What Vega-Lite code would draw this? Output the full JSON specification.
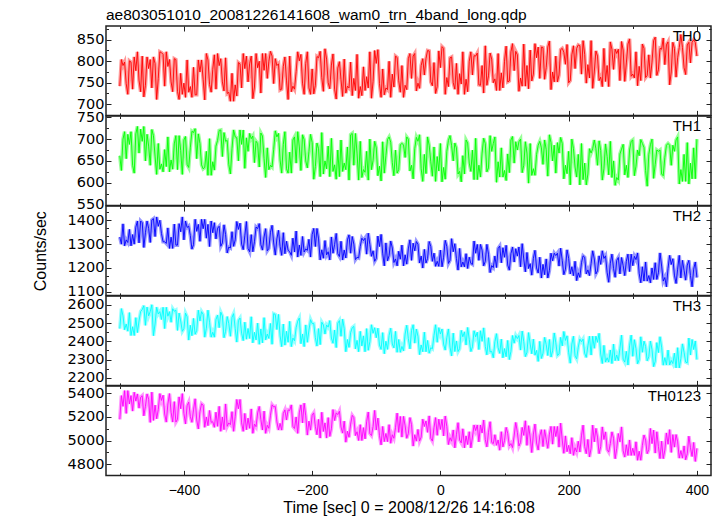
{
"$schema":"https://vega.github.io/schema/vega-lite/v6.json",
"background":"white",
"padding":{"left":31,"top":7,"right":5,"bottom":2},
"title":{"text":"ae803051010_20081226141608_wam0_trn_4band_long.qdp","anchor":"start","frame":"group","font":"Liberation Sans","fontSize":15.5,"fontWeight":"normal","color":"black","offset":-3},
"datasets":{"lc":[
{"t":-500,"TH0":742,"TH1":662,"TH2":1330,"TH3":2470,"TH0123":5180},
{"t":-495,"TH0":790,"TH1":700,"TH2":1385,"TH3":2540,"TH0123":5290},
{"t":-490,"TH0":748,"TH1":655,"TH2":1318,"TH3":2495,"TH0123":5230},
{"t":-485,"TH0":801,"TH1":688,"TH2":1362,"TH3":2558,"TH0123":5310},
{"t":-480,"TH0":735,"TH1":640,"TH2":1340,"TH3":2480,"TH0123":5250},
{"t":-475,"TH0":778,"TH1":712,"TH2":1371,"TH3":2530,"TH0123":5335},
{"t":-470,"TH0":756,"TH1":668,"TH2":1305,"TH3":2512,"TH0123":5275},
{"t":-465,"TH0":812,"TH1":695,"TH2":1390,"TH3":2575,"TH0123":5380},
{"t":-460,"TH0":744,"TH1":650,"TH2":1348,"TH3":2488,"TH0123":5290},
{"t":-455,"TH0":783,"TH1":684,"TH2":1366,"TH3":2540,"TH0123":5350},
{"t":-450,"TH0":738,"TH1":722,"TH2":1402,"TH3":2601,"TH0123":5410},
{"t":-445,"TH0":795,"TH1":661,"TH2":1332,"TH3":2495,"TH0123":5300},
{"t":-440,"TH0":760,"TH1":690,"TH2":1375,"TH3":2550,"TH0123":5262},
{"t":-435,"TH0":820,"TH1":643,"TH2":1345,"TH3":2520,"TH0123":5340},
{"t":-430,"TH0":742,"TH1":676,"TH2":1310,"TH3":2470,"TH0123":5225},
{"t":-425,"TH0":788,"TH1":705,"TH2":1368,"TH3":2538,"TH0123":5310},
{"t":-420,"TH0":752,"TH1":652,"TH2":1329,"TH3":2505,"TH0123":5240},
{"t":-415,"TH0":806,"TH1":689,"TH2":1384,"TH3":2565,"TH0123":5330},
{"t":-410,"TH0":730,"TH1":630,"TH2":1296,"TH3":2460,"TH0123":5180},
{"t":-405,"TH0":772,"TH1":674,"TH2":1352,"TH3":2512,"TH0123":5270},
{"t":-400,"TH0":749,"TH1":698,"TH2":1318,"TH3":2470,"TH0123":5230},
{"t":-395,"TH0":803,"TH1":642,"TH2":1370,"TH3":2535,"TH0123":5295},
{"t":-390,"TH0":741,"TH1":680,"TH2":1336,"TH3":2488,"TH0123":5205},
{"t":-385,"TH0":786,"TH1":715,"TH2":1298,"TH3":2526,"TH0123":5260},
{"t":-380,"TH0":722,"TH1":655,"TH2":1354,"TH3":2460,"TH0123":5175},
{"t":-375,"TH0":775,"TH1":690,"TH2":1312,"TH3":2512,"TH0123":5245},
{"t":-370,"TH0":758,"TH1":632,"TH2":1365,"TH3":2548,"TH0123":5300},
{"t":-365,"TH0":818,"TH1":672,"TH2":1325,"TH3":2472,"TH0123":5200},
{"t":-360,"TH0":746,"TH1":701,"TH2":1290,"TH3":2505,"TH0123":5255},
{"t":-355,"TH0":781,"TH1":648,"TH2":1348,"TH3":2450,"TH0123":5160},
{"t":-350,"TH0":735,"TH1":684,"TH2":1322,"TH3":2520,"TH0123":5240},
{"t":-345,"TH0":790,"TH1":720,"TH2":1375,"TH3":2475,"TH0123":5290},
{"t":-340,"TH0":752,"TH1":660,"TH2":1305,"TH3":2540,"TH0123":5200},
{"t":-335,"TH0":808,"TH1":695,"TH2":1340,"TH3":2455,"TH0123":5310},
{"t":-330,"TH0":728,"TH1":642,"TH2":1288,"TH3":2498,"TH0123":5150},
{"t":-325,"TH0":772,"TH1":678,"TH2":1352,"TH3":2532,"TH0123":5245},
{"t":-320,"TH0":745,"TH1":705,"TH2":1318,"TH3":2470,"TH0123":5205},
{"t":-315,"TH0":797,"TH1":650,"TH2":1362,"TH3":2515,"TH0123":5270},
{"t":-310,"TH0":738,"TH1":688,"TH2":1300,"TH3":2445,"TH0123":5150},
{"t":-305,"TH0":783,"TH1":633,"TH2":1335,"TH3":2505,"TH0123":5230},
{"t":-300,"TH0":752,"TH1":672,"TH2":1282,"TH3":2470,"TH0123":5190},
{"t":-295,"TH0":812,"TH1":701,"TH2":1340,"TH3":2535,"TH0123":5268},
{"t":-290,"TH0":740,"TH1":646,"TH2":1310,"TH3":2450,"TH0123":5140},
{"t":-285,"TH0":785,"TH1":690,"TH2":1365,"TH3":2500,"TH0123":5235},
{"t":-280,"TH0":726,"TH1":714,"TH2":1298,"TH3":2468,"TH0123":5180},
{"t":-275,"TH0":779,"TH1":655,"TH2":1330,"TH3":2530,"TH0123":5250},
{"t":-270,"TH0":760,"TH1":680,"TH2":1272,"TH3":2440,"TH0123":5130},
{"t":-265,"TH0":823,"TH1":640,"TH2":1350,"TH3":2498,"TH0123":5215},
{"t":-260,"TH0":748,"TH1":676,"TH2":1305,"TH3":2552,"TH0123":5285},
{"t":-255,"TH0":790,"TH1":705,"TH2":1322,"TH3":2465,"TH0123":5160},
{"t":-250,"TH0":733,"TH1":652,"TH2":1290,"TH3":2430,"TH0123":5145},
{"t":-245,"TH0":788,"TH1":688,"TH2":1348,"TH3":2495,"TH0123":5230},
{"t":-240,"TH0":756,"TH1":632,"TH2":1312,"TH3":2455,"TH0123":5175},
{"t":-235,"TH0":812,"TH1":670,"TH2":1268,"TH3":2510,"TH0123":5255},
{"t":-230,"TH0":742,"TH1":698,"TH2":1325,"TH3":2418,"TH0123":5120},
{"t":-225,"TH0":776,"TH1":645,"TH2":1355,"TH3":2475,"TH0123":5200},
{"t":-220,"TH0":801,"TH1":682,"TH2":1296,"TH3":2528,"TH0123":5235},
{"t":-215,"TH0":749,"TH1":710,"TH2":1332,"TH3":2440,"TH0123":5150},
{"t":-210,"TH0":795,"TH1":650,"TH2":1280,"TH3":2490,"TH0123":5210},
{"t":-205,"TH0":738,"TH1":672,"TH2":1320,"TH3":2462,"TH0123":5165},
{"t":-200,"TH0":782,"TH1":692,"TH2":1340,"TH3":2498,"TH0123":5215},
{"t":-195,"TH0":744,"TH1":637,"TH2":1290,"TH3":2420,"TH0123":5120},
{"t":-190,"TH0":808,"TH1":678,"TH2":1322,"TH3":2470,"TH0123":5180},
{"t":-185,"TH0":762,"TH1":715,"TH2":1276,"TH3":2505,"TH0123":5240},
{"t":-180,"TH0":829,"TH1":650,"TH2":1315,"TH3":2440,"TH0123":5150},
{"t":-175,"TH0":750,"TH1":684,"TH2":1268,"TH3":2478,"TH0123":5195},
{"t":-170,"TH0":791,"TH1":702,"TH2":1330,"TH3":2418,"TH0123":5100},
{"t":-165,"TH0":735,"TH1":641,"TH2":1298,"TH3":2462,"TH0123":5170},
{"t":-160,"TH0":784,"TH1":675,"TH2":1260,"TH3":2500,"TH0123":5220},
{"t":-155,"TH0":757,"TH1":698,"TH2":1312,"TH3":2428,"TH0123":5115},
{"t":-150,"TH0":805,"TH1":645,"TH2":1275,"TH3":2470,"TH0123":5165},
{"t":-145,"TH0":742,"TH1":682,"TH2":1318,"TH3":2410,"TH0123":5080},
{"t":-140,"TH0":798,"TH1":710,"TH2":1262,"TH3":2448,"TH0123":5140},
{"t":-135,"TH0":760,"TH1":640,"TH2":1300,"TH3":2482,"TH0123":5195},
{"t":-130,"TH0":816,"TH1":668,"TH2":1245,"TH3":2405,"TH0123":5075},
{"t":-125,"TH0":741,"TH1":695,"TH2":1290,"TH3":2455,"TH0123":5135},
{"t":-120,"TH0":787,"TH1":630,"TH2":1315,"TH3":2430,"TH0123":5110},
{"t":-115,"TH0":764,"TH1":672,"TH2":1258,"TH3":2470,"TH0123":5160},
{"t":-110,"TH0":822,"TH1":700,"TH2":1298,"TH3":2398,"TH0123":5060},
{"t":-105,"TH0":753,"TH1":651,"TH2":1272,"TH3":2445,"TH0123":5120},
{"t":-100,"TH0":795,"TH1":680,"TH2":1240,"TH3":2420,"TH0123":5090},
{"t":-95,"TH0":748,"TH1":638,"TH2":1290,"TH3":2380,"TH0123":5045},
{"t":-90,"TH0":782,"TH1":694,"TH2":1262,"TH3":2448,"TH0123":5120},
{"t":-85,"TH0":738,"TH1":662,"TH2":1305,"TH3":2400,"TH0123":5060},
{"t":-80,"TH0":800,"TH1":705,"TH2":1252,"TH3":2432,"TH0123":5135},
{"t":-75,"TH0":770,"TH1":646,"TH2":1284,"TH3":2385,"TH0123":5050},
{"t":-70,"TH0":812,"TH1":675,"TH2":1238,"TH3":2455,"TH0123":5110},
{"t":-65,"TH0":755,"TH1":630,"TH2":1270,"TH3":2410,"TH0123":5070},
{"t":-60,"TH0":790,"TH1":690,"TH2":1296,"TH3":2372,"TH0123":5030},
{"t":-55,"TH0":744,"TH1":658,"TH2":1255,"TH3":2440,"TH0123":5125},
{"t":-50,"TH0":806,"TH1":700,"TH2":1280,"TH3":2415,"TH0123":5060},
{"t":-45,"TH0":760,"TH1":640,"TH2":1232,"TH3":2460,"TH0123":5135},
{"t":-40,"TH0":818,"TH1":678,"TH2":1272,"TH3":2390,"TH0123":5050},
{"t":-35,"TH0":749,"TH1":695,"TH2":1300,"TH3":2428,"TH0123":5095},
{"t":-30,"TH0":790,"TH1":632,"TH2":1250,"TH3":2380,"TH0123":5030},
{"t":-25,"TH0":768,"TH1":665,"TH2":1278,"TH3":2450,"TH0123":5120},
{"t":-20,"TH0":825,"TH1":705,"TH2":1240,"TH3":2405,"TH0123":5070},
{"t":-15,"TH0":752,"TH1":648,"TH2":1290,"TH3":2365,"TH0123":5020},
{"t":-10,"TH0":797,"TH1":682,"TH2":1262,"TH3":2432,"TH0123":5110},
{"t":-5,"TH0":741,"TH1":660,"TH2":1228,"TH3":2395,"TH0123":5045},
{"t":0,"TH0":785,"TH1":690,"TH2":1275,"TH3":2440,"TH0123":5095},
{"t":5,"TH0":830,"TH1":635,"TH2":1245,"TH3":2385,"TH0123":5040},
{"t":10,"TH0":762,"TH1":672,"TH2":1290,"TH3":2420,"TH0123":5120},
{"t":15,"TH0":808,"TH1":708,"TH2":1232,"TH3":2368,"TH0123":5025},
{"t":20,"TH0":750,"TH1":650,"TH2":1268,"TH3":2445,"TH0123":5090},
{"t":25,"TH0":795,"TH1":680,"TH2":1240,"TH3":2402,"TH0123":5050},
{"t":30,"TH0":771,"TH1":626,"TH2":1282,"TH3":2360,"TH0123":5005},
{"t":35,"TH0":822,"TH1":662,"TH2":1225,"TH3":2425,"TH0123":5100},
{"t":40,"TH0":758,"TH1":698,"TH2":1260,"TH3":2380,"TH0123":5040},
{"t":45,"TH0":800,"TH1":645,"TH2":1245,"TH3":2410,"TH0123":5075},
{"t":50,"TH0":768,"TH1":675,"TH2":1215,"TH3":2370,"TH0123":5030},
{"t":55,"TH0":812,"TH1":702,"TH2":1262,"TH3":2425,"TH0123":5085},
{"t":60,"TH0":745,"TH1":640,"TH2":1232,"TH3":2355,"TH0123":4990},
{"t":65,"TH0":790,"TH1":668,"TH2":1275,"TH3":2400,"TH0123":5065},
{"t":70,"TH0":836,"TH1":690,"TH2":1228,"TH3":2372,"TH0123":5010},
{"t":75,"TH0":766,"TH1":634,"TH2":1258,"TH3":2420,"TH0123":5070},
{"t":80,"TH0":805,"TH1":672,"TH2":1210,"TH3":2345,"TH0123":4985},
{"t":85,"TH0":759,"TH1":705,"TH2":1250,"TH3":2398,"TH0123":5050},
{"t":90,"TH0":818,"TH1":648,"TH2":1282,"TH3":2365,"TH0123":5005},
{"t":95,"TH0":773,"TH1":680,"TH2":1222,"TH3":2412,"TH0123":5075},
{"t":100,"TH0":800,"TH1":628,"TH2":1245,"TH3":2360,"TH0123":5000},
{"t":105,"TH0":752,"TH1":666,"TH2":1212,"TH3":2405,"TH0123":5060},
{"t":110,"TH0":822,"TH1":698,"TH2":1260,"TH3":2345,"TH0123":4975},
{"t":115,"TH0":778,"TH1":645,"TH2":1225,"TH3":2390,"TH0123":5040},
{"t":120,"TH0":815,"TH1":675,"TH2":1250,"TH3":2415,"TH0123":5070},
{"t":125,"TH0":761,"TH1":700,"TH2":1205,"TH3":2352,"TH0123":4985},
{"t":130,"TH0":840,"TH1":640,"TH2":1238,"TH3":2398,"TH0123":5045},
{"t":135,"TH0":790,"TH1":668,"TH2":1265,"TH3":2340,"TH0123":4960},
{"t":140,"TH0":826,"TH1":690,"TH2":1218,"TH3":2385,"TH0123":5030},
{"t":145,"TH0":770,"TH1":632,"TH2":1240,"TH3":2412,"TH0123":5055},
{"t":150,"TH0":808,"TH1":665,"TH2":1200,"TH3":2350,"TH0123":4980},
{"t":155,"TH0":760,"TH1":695,"TH2":1245,"TH3":2400,"TH0123":5040},
{"t":160,"TH0":832,"TH1":642,"TH2":1215,"TH3":2335,"TH0123":4950},
{"t":165,"TH0":785,"TH1":676,"TH2":1238,"TH3":2382,"TH0123":5010},
{"t":170,"TH0":847,"TH1":710,"TH2":1190,"TH3":2410,"TH0123":5055},
{"t":175,"TH0":775,"TH1":650,"TH2":1230,"TH3":2348,"TH0123":4970},
{"t":180,"TH0":812,"TH1":622,"TH2":1252,"TH3":2392,"TH0123":5035},
{"t":185,"TH0":768,"TH1":668,"TH2":1208,"TH3":2330,"TH0123":4945},
{"t":190,"TH0":830,"TH1":690,"TH2":1232,"TH3":2375,"TH0123":5005},
{"t":195,"TH0":793,"TH1":640,"TH2":1195,"TH3":2405,"TH0123":5040},
{"t":200,"TH0":750,"TH1":672,"TH2":1240,"TH3":2340,"TH0123":4960},
{"t":205,"TH0":815,"TH1":700,"TH2":1205,"TH3":2385,"TH0123":5025},
{"t":210,"TH0":783,"TH1":636,"TH2":1228,"TH3":2320,"TH0123":4940},
{"t":215,"TH0":838,"TH1":665,"TH2":1180,"TH3":2368,"TH0123":4995},
{"t":220,"TH0":770,"TH1":690,"TH2":1222,"TH3":2398,"TH0123":5040},
{"t":225,"TH0":816,"TH1":645,"TH2":1245,"TH3":2335,"TH0123":4950},
{"t":230,"TH0":792,"TH1":620,"TH2":1192,"TH3":2375,"TH0123":5010},
{"t":235,"TH0":848,"TH1":668,"TH2":1218,"TH3":2325,"TH0123":4935},
{"t":240,"TH0":775,"TH1":698,"TH2":1238,"TH3":2362,"TH0123":4990},
{"t":245,"TH0":812,"TH1":640,"TH2":1188,"TH3":2395,"TH0123":5030},
{"t":250,"TH0":763,"TH1":674,"TH2":1215,"TH3":2330,"TH0123":4950},
{"t":255,"TH0":830,"TH1":632,"TH2":1240,"TH3":2378,"TH0123":5010},
{"t":260,"TH0":790,"TH1":660,"TH2":1182,"TH3":2310,"TH0123":4925},
{"t":265,"TH0":845,"TH1":695,"TH2":1220,"TH3":2352,"TH0123":4975},
{"t":270,"TH0":781,"TH1":650,"TH2":1198,"TH3":2385,"TH0123":5020},
{"t":275,"TH0":818,"TH1":612,"TH2":1232,"TH3":2325,"TH0123":4935},
{"t":280,"TH0":755,"TH1":666,"TH2":1175,"TH3":2362,"TH0123":4990},
{"t":285,"TH0":826,"TH1":688,"TH2":1210,"TH3":2302,"TH0123":4915},
{"t":290,"TH0":796,"TH1":640,"TH2":1228,"TH3":2345,"TH0123":4965},
{"t":295,"TH0":852,"TH1":675,"TH2":1185,"TH3":2375,"TH0123":5005},
{"t":300,"TH0":770,"TH1":698,"TH2":1210,"TH3":2318,"TH0123":4935},
{"t":305,"TH0":822,"TH1":638,"TH2":1235,"TH3":2360,"TH0123":4990},
{"t":310,"TH0":788,"TH1":662,"TH2":1178,"TH3":2300,"TH0123":4910},
{"t":315,"TH0":840,"TH1":690,"TH2":1205,"TH3":2340,"TH0123":4960},
{"t":320,"TH0":762,"TH1":628,"TH2":1225,"TH3":2372,"TH0123":5005},
{"t":325,"TH0":815,"TH1":665,"TH2":1168,"TH3":2315,"TH0123":4925},
{"t":330,"TH0":798,"TH1":700,"TH2":1200,"TH3":2355,"TH0123":4975},
{"t":335,"TH0":856,"TH1":642,"TH2":1222,"TH3":2290,"TH0123":4895},
{"t":340,"TH0":780,"TH1":672,"TH2":1180,"TH3":2338,"TH0123":4950},
{"t":345,"TH0":828,"TH1":620,"TH2":1208,"TH3":2368,"TH0123":4995},
{"t":350,"TH0":792,"TH1":658,"TH2":1160,"TH3":2310,"TH0123":4920},
{"t":355,"TH0":845,"TH1":690,"TH2":1198,"TH3":2352,"TH0123":4970},
{"t":360,"TH0":775,"TH1":640,"TH2":1215,"TH3":2295,"TH0123":4900},
{"t":365,"TH0":830,"TH1":672,"TH2":1170,"TH3":2335,"TH0123":4945},
{"t":370,"TH0":808,"TH1":705,"TH2":1195,"TH3":2365,"TH0123":4990},
{"t":375,"TH0":862,"TH1":630,"TH2":1158,"TH3":2305,"TH0123":4915},
{"t":380,"TH0":785,"TH1":665,"TH2":1190,"TH3":2340,"TH0123":4955},
{"t":385,"TH0":838,"TH1":692,"TH2":1212,"TH3":2282,"TH0123":4890},
{"t":390,"TH0":796,"TH1":645,"TH2":1168,"TH3":2325,"TH0123":4940},
{"t":395,"TH0":850,"TH1":680,"TH2":1195,"TH3":2355,"TH0123":4985},
{"t":400,"TH0":812,"TH1":700,"TH2":1160,"TH3":2300,"TH0123":4935},
{"t":-497.5,"TH0":804,"TH1":628,"TH2":1300,"TH3":2580,"TH0123":5381},
{"t":-492.5,"TH0":798,"TH1":717,"TH2":1293,"TH3":2464,"TH0123":5423},
{"t":-487.5,"TH0":723,"TH1":711,"TH2":1307,"TH3":2456,"TH0123":5423},
{"t":-482.5,"TH0":798,"TH1":717,"TH2":1293,"TH3":2432,"TH0123":5381},
{"t":-477.5,"TH0":810,"TH1":622,"TH2":1300,"TH3":2432,"TH0123":5409},
{"t":-472.5,"TH0":822,"TH1":729,"TH2":1397,"TH3":2448,"TH0123":5395},
{"t":-467.5,"TH0":729,"TH1":723,"TH2":1397,"TH3":2564,"TH0123":5367},
{"t":-462.5,"TH0":717,"TH1":729,"TH2":1286,"TH3":2596,"TH0123":5210},
{"t":-457.5,"TH0":810,"TH1":711,"TH2":1397,"TH3":2588,"TH0123":5395},
{"t":-452.5,"TH0":804,"TH1":640,"TH2":1307,"TH3":2564,"TH0123":5154},
{"t":-447.5,"TH0":810,"TH1":708,"TH2":1407,"TH3":2431,"TH0123":5171},
{"t":-442.5,"TH0":711,"TH1":619,"TH2":1414,"TH3":2587,"TH0123":5185},
{"t":-437.5,"TH0":822,"TH1":631,"TH2":1400,"TH3":2563,"TH0123":5398},
{"t":-432.5,"TH0":816,"TH1":625,"TH2":1310,"TH3":2587,"TH0123":5384},
{"t":-427.5,"TH0":822,"TH1":637,"TH2":1303,"TH3":2587,"TH0123":5157},
{"t":-422.5,"TH0":804,"TH1":625,"TH2":1282,"TH3":2563,"TH0123":5398},
{"t":-417.5,"TH0":729,"TH1":631,"TH2":1282,"TH3":2579,"TH0123":5157},
{"t":-412.5,"TH0":804,"TH1":708,"TH2":1296,"TH3":2571,"TH0123":5157},
{"t":-407.5,"TH0":711,"TH1":708,"TH2":1386,"TH3":2555,"TH0123":5370},
{"t":-402.5,"TH0":723,"TH1":619,"TH2":1414,"TH3":2455,"TH0123":5398},
{"t":-397.5,"TH0":716,"TH1":706,"TH2":1397,"TH3":2555,"TH0123":5141},
{"t":-392.5,"TH0":728,"TH1":635,"TH2":1376,"TH3":2407,"TH0123":5326},
{"t":-387.5,"TH0":716,"TH1":718,"TH2":1279,"TH3":2431,"TH0123":5155},
{"t":-382.5,"TH0":722,"TH1":724,"TH2":1404,"TH3":2439,"TH0123":5354},
{"t":-377.5,"TH0":803,"TH1":712,"TH2":1383,"TH3":2571,"TH0123":5099},
{"t":-372.5,"TH0":803,"TH1":641,"TH2":1404,"TH3":2563,"TH0123":5312},
{"t":-367.5,"TH0":710,"TH1":635,"TH2":1404,"TH3":2423,"TH0123":5113},
{"t":-362.5,"TH0":803,"TH1":617,"TH2":1383,"TH3":2571,"TH0123":5127},
{"t":-357.5,"TH0":728,"TH1":617,"TH2":1397,"TH3":2423,"TH0123":5155},
{"t":-352.5,"TH0":815,"TH1":629,"TH2":1390,"TH3":2423,"TH0123":5113},
{"t":-347.5,"TH0":818,"TH1":697,"TH2":1367,"TH3":2544,"TH0123":5121},
{"t":-342.5,"TH0":806,"TH1":721,"TH2":1291,"TH3":2560,"TH0123":5079},
{"t":-337.5,"TH0":731,"TH1":715,"TH2":1381,"TH3":2420,"TH0123":5093},
{"t":-332.5,"TH0":725,"TH1":697,"TH2":1263,"TH3":2536,"TH0123":5121},
{"t":-327.5,"TH0":707,"TH1":620,"TH2":1284,"TH3":2428,"TH0123":5135},
{"t":-322.5,"TH0":707,"TH1":721,"TH2":1291,"TH3":2552,"TH0123":5079},
{"t":-317.5,"TH0":719,"TH1":703,"TH2":1395,"TH3":2396,"TH0123":5348},
{"t":-312.5,"TH0":794,"TH1":721,"TH2":1388,"TH3":2528,"TH0123":5348},
{"t":-307.5,"TH0":818,"TH1":721,"TH2":1277,"TH3":2404,"TH0123":5079},
{"t":-302.5,"TH0":812,"TH1":703,"TH2":1395,"TH3":2412,"TH0123":5093},
{"t":-297.5,"TH0":794,"TH1":713,"TH2":1268,"TH3":2416,"TH0123":5104},
{"t":-292.5,"TH0":713,"TH1":707,"TH2":1268,"TH3":2392,"TH0123":5062},
{"t":-287.5,"TH0":818,"TH1":695,"TH2":1372,"TH3":2408,"TH0123":5118},
{"t":-282.5,"TH0":800,"TH1":636,"TH2":1386,"TH3":2384,"TH0123":5289},
{"t":-277.5,"TH0":818,"TH1":707,"TH2":1275,"TH3":2392,"TH0123":5090},
{"t":-272.5,"TH0":818,"TH1":612,"TH2":1365,"TH3":2408,"TH0123":5062},
{"t":-267.5,"TH0":800,"TH1":630,"TH2":1282,"TH3":2416,"TH0123":5104},
{"t":-262.5,"TH0":812,"TH1":636,"TH2":1379,"TH3":2384,"TH0123":5303},
{"t":-257.5,"TH0":806,"TH1":719,"TH2":1254,"TH3":2548,"TH0123":5289},
{"t":-252.5,"TH0":794,"TH1":713,"TH2":1358,"TH3":2548,"TH0123":5090},
{"t":-247.5,"TH0":735,"TH1":622,"TH2":1253,"TH3":2371,"TH0123":5089},
{"t":-242.5,"TH0":810,"TH1":717,"TH2":1260,"TH3":2379,"TH0123":5260},
{"t":-237.5,"TH0":711,"TH1":622,"TH2":1274,"TH3":2395,"TH0123":5260},
{"t":-232.5,"TH0":729,"TH1":622,"TH2":1253,"TH3":2371,"TH0123":5302},
{"t":-227.5,"TH0":735,"TH1":705,"TH2":1267,"TH3":2403,"TH0123":5103},
{"t":-222.5,"TH0":822,"TH1":717,"TH2":1246,"TH3":2511,"TH0123":5061},
{"t":-217.5,"TH0":816,"TH1":628,"TH2":1253,"TH3":2387,"TH0123":5302},
{"t":-212.5,"TH0":723,"TH1":699,"TH2":1267,"TH3":2371,"TH0123":5316},
{"t":-207.5,"TH0":822,"TH1":634,"TH2":1274,"TH3":2395,"TH0123":5047},
{"t":-202.5,"TH0":723,"TH1":711,"TH2":1246,"TH3":2519,"TH0123":5089},
{"t":-197.5,"TH0":724,"TH1":608,"TH2":1366,"TH3":2498,"TH0123":5235},
{"t":-192.5,"TH0":811,"TH1":691,"TH2":1366,"TH3":2374,"TH0123":5050},
{"t":-187.5,"TH0":823,"TH1":614,"TH2":1234,"TH3":2382,"TH0123":5022},
{"t":-182.5,"TH0":730,"TH1":620,"TH2":1241,"TH3":2490,"TH0123":5078},
{"t":-177.5,"TH0":805,"TH1":632,"TH2":1255,"TH3":2490,"TH0123":5022},
{"t":-172.5,"TH0":736,"TH1":614,"TH2":1234,"TH3":2514,"TH0123":5036},
{"t":-167.5,"TH0":817,"TH1":626,"TH2":1262,"TH3":2390,"TH0123":5263},
{"t":-162.5,"TH0":712,"TH1":608,"TH2":1345,"TH3":2366,"TH0123":5235},
{"t":-157.5,"TH0":799,"TH1":614,"TH2":1248,"TH3":2514,"TH0123":5249},
{"t":-152.5,"TH0":718,"TH1":626,"TH2":1234,"TH3":2522,"TH0123":5064},
{"t":-147.5,"TH0":726,"TH1":630,"TH2":1242,"TH3":2343,"TH0123":4987},
{"t":-142.5,"TH0":738,"TH1":606,"TH2":1339,"TH3":2367,"TH0123":5029},
{"t":-137.5,"TH0":720,"TH1":713,"TH2":1332,"TH3":2475,"TH0123":5214},
{"t":-132.5,"TH0":732,"TH1":713,"TH2":1235,"TH3":2359,"TH0123":5043},
{"t":-127.5,"TH0":714,"TH1":606,"TH2":1242,"TH3":2343,"TH0123":5001},
{"t":-122.5,"TH0":720,"TH1":612,"TH2":1325,"TH3":2375,"TH0123":5001},
{"t":-117.5,"TH0":732,"TH1":624,"TH2":1325,"TH3":2343,"TH0123":5015},
{"t":-112.5,"TH0":738,"TH1":606,"TH2":1346,"TH3":2351,"TH0123":5242},
{"t":-107.5,"TH0":714,"TH1":630,"TH2":1249,"TH3":2491,"TH0123":5043},
{"t":-102.5,"TH0":825,"TH1":695,"TH2":1228,"TH3":2475,"TH0123":5256},
{"t":-97.5,"TH0":827,"TH1":616,"TH2":1334,"TH3":2472,"TH0123":5191},
{"t":-92.5,"TH0":716,"TH1":604,"TH2":1341,"TH3":2356,"TH0123":4964},
{"t":-87.5,"TH0":722,"TH1":622,"TH2":1209,"TH3":2332,"TH0123":4992},
{"t":-82.5,"TH0":734,"TH1":699,"TH2":1230,"TH3":2356,"TH0123":4992},
{"t":-77.5,"TH0":716,"TH1":693,"TH2":1313,"TH3":2472,"TH0123":4978},
{"t":-72.5,"TH0":740,"TH1":616,"TH2":1223,"TH3":2364,"TH0123":5020},
{"t":-67.5,"TH0":809,"TH1":622,"TH2":1209,"TH3":2340,"TH0123":5233},
{"t":-62.5,"TH0":728,"TH1":687,"TH2":1237,"TH3":2340,"TH0123":5205},
{"t":-57.5,"TH0":716,"TH1":687,"TH2":1209,"TH3":2348,"TH0123":5205},
{"t":-52.5,"TH0":734,"TH1":705,"TH2":1216,"TH3":2488,"TH0123":5020},
{"t":-47.5,"TH0":818,"TH1":627,"TH2":1318,"TH3":2359,"TH0123":5195},
{"t":-42.5,"TH0":812,"TH1":609,"TH2":1304,"TH3":2491,"TH0123":4954},
{"t":-37.5,"TH0":731,"TH1":704,"TH2":1311,"TH3":2467,"TH0123":4996},
{"t":-32.5,"TH0":737,"TH1":710,"TH2":1221,"TH3":2327,"TH0123":4996},
{"t":-27.5,"TH0":806,"TH1":603,"TH2":1200,"TH3":2343,"TH0123":5181},
{"t":-22.5,"TH0":806,"TH1":621,"TH2":1221,"TH3":2343,"TH0123":5167},
{"t":-17.5,"TH0":824,"TH1":686,"TH2":1311,"TH3":2335,"TH0123":5209},
{"t":-12.5,"TH0":743,"TH1":615,"TH2":1228,"TH3":2359,"TH0123":4996},
{"t":-7.5,"TH0":725,"TH1":603,"TH2":1207,"TH3":2491,"TH0123":5195},
{"t":-2.5,"TH0":824,"TH1":627,"TH2":1207,"TH3":2475,"TH0123":5181},
{"t":2.5,"TH0":834,"TH1":602,"TH2":1205,"TH3":2468,"TH0123":5180},
{"t":7.5,"TH0":723,"TH1":608,"TH2":1316,"TH3":2352,"TH0123":5208},
{"t":12.5,"TH0":741,"TH1":697,"TH2":1219,"TH3":2468,"TH0123":4967},
{"t":17.5,"TH0":810,"TH1":685,"TH2":1323,"TH3":2320,"TH0123":4995},
{"t":22.5,"TH0":735,"TH1":691,"TH2":1302,"TH3":2344,"TH0123":4939},
{"t":27.5,"TH0":723,"TH1":620,"TH2":1191,"TH3":2344,"TH0123":5152},
{"t":32.5,"TH0":747,"TH1":602,"TH2":1205,"TH3":2460,"TH0123":4981},
{"t":37.5,"TH0":723,"TH1":620,"TH2":1205,"TH3":2452,"TH0123":4939},
{"t":42.5,"TH0":729,"TH1":691,"TH2":1198,"TH3":2476,"TH0123":4967},
{"t":47.5,"TH0":822,"TH1":626,"TH2":1219,"TH3":2344,"TH0123":4939},
{"t":52.5,"TH0":813,"TH1":607,"TH2":1313,"TH3":2458,"TH0123":5132},
{"t":57.5,"TH0":819,"TH1":607,"TH2":1299,"TH3":2450,"TH0123":5132},
{"t":62.5,"TH0":744,"TH1":613,"TH2":1299,"TH3":2458,"TH0123":5132},
{"t":67.5,"TH0":726,"TH1":702,"TH2":1209,"TH3":2474,"TH0123":5174},
{"t":72.5,"TH0":744,"TH1":625,"TH2":1299,"TH3":2326,"TH0123":4947},
{"t":77.5,"TH0":819,"TH1":708,"TH2":1181,"TH3":2342,"TH0123":5160},
{"t":82.5,"TH0":750,"TH1":690,"TH2":1202,"TH3":2310,"TH0123":4975},
{"t":87.5,"TH0":732,"TH1":601,"TH2":1202,"TH3":2442,"TH0123":4961},
{"t":92.5,"TH0":732,"TH1":613,"TH2":1292,"TH3":2334,"TH0123":4919},
{"t":97.5,"TH0":738,"TH1":613,"TH2":1285,"TH3":2310,"TH0123":4947},
{"t":102.5,"TH0":835,"TH1":605,"TH2":1295,"TH3":2316,"TH0123":5112},
{"t":107.5,"TH0":754,"TH1":623,"TH2":1191,"TH3":2300,"TH0123":4955},
{"t":112.5,"TH0":841,"TH1":706,"TH2":1288,"TH3":2432,"TH0123":4941},
{"t":117.5,"TH0":823,"TH1":694,"TH2":1281,"TH3":2432,"TH0123":5154},
{"t":122.5,"TH0":730,"TH1":694,"TH2":1288,"TH3":2432,"TH0123":4955},
{"t":127.5,"TH0":742,"TH1":623,"TH2":1302,"TH3":2456,"TH0123":5112},
{"t":132.5,"TH0":742,"TH1":694,"TH2":1184,"TH3":2316,"TH0123":5168},
{"t":137.5,"TH0":736,"TH1":599,"TH2":1198,"TH3":2448,"TH0123":5126},
{"t":142.5,"TH0":754,"TH1":617,"TH2":1170,"TH3":2332,"TH0123":4899},
{"t":147.5,"TH0":841,"TH1":617,"TH2":1274,"TH3":2324,"TH0123":5140},
{"t":152.5,"TH0":833,"TH1":686,"TH2":1179,"TH3":2290,"TH0123":4921},
{"t":157.5,"TH0":833,"TH1":680,"TH2":1158,"TH3":2306,"TH0123":5092},
{"t":162.5,"TH0":758,"TH1":698,"TH2":1172,"TH3":2422,"TH0123":5092},
{"t":167.5,"TH0":833,"TH1":615,"TH2":1158,"TH3":2322,"TH0123":4935},
{"t":172.5,"TH0":734,"TH1":692,"TH2":1262,"TH3":2314,"TH0123":5120},
{"t":177.5,"TH0":752,"TH1":686,"TH2":1262,"TH3":2446,"TH0123":5120},
{"t":182.5,"TH0":752,"TH1":692,"TH2":1262,"TH3":2322,"TH0123":5120},
{"t":187.5,"TH0":827,"TH1":704,"TH2":1283,"TH3":2422,"TH0123":5148},
{"t":192.5,"TH0":821,"TH1":609,"TH2":1172,"TH3":2454,"TH0123":4893},
{"t":197.5,"TH0":839,"TH1":621,"TH2":1276,"TH3":2430,"TH0123":4907},
{"t":202.5,"TH0":755,"TH1":595,"TH2":1175,"TH3":2280,"TH0123":4890},
{"t":207.5,"TH0":836,"TH1":678,"TH2":1168,"TH3":2428,"TH0123":4876},
{"t":212.5,"TH0":830,"TH1":613,"TH2":1147,"TH3":2304,"TH0123":4904},
{"t":217.5,"TH0":836,"TH1":595,"TH2":1161,"TH3":2412,"TH0123":4904},
{"t":222.5,"TH0":848,"TH1":607,"TH2":1251,"TH3":2412,"TH0123":5131},
{"t":227.5,"TH0":749,"TH1":595,"TH2":1175,"TH3":2312,"TH0123":4890},
{"t":232.5,"TH0":761,"TH1":678,"TH2":1168,"TH3":2428,"TH0123":4862},
{"t":237.5,"TH0":737,"TH1":678,"TH2":1272,"TH3":2428,"TH0123":5131},
{"t":242.5,"TH0":824,"TH1":678,"TH2":1175,"TH3":2428,"TH0123":5103},
{"t":247.5,"TH0":755,"TH1":696,"TH2":1251,"TH3":2444,"TH0123":4890},
{"t":252.5,"TH0":741,"TH1":606,"TH2":1272,"TH3":2278,"TH0123":5116},
{"t":257.5,"TH0":753,"TH1":689,"TH2":1251,"TH3":2286,"TH0123":5074},
{"t":262.5,"TH0":741,"TH1":618,"TH2":1140,"TH3":2286,"TH0123":4903},
{"t":267.5,"TH0":828,"TH1":612,"TH2":1258,"TH3":2278,"TH0123":5074},
{"t":272.5,"TH0":828,"TH1":594,"TH2":1161,"TH3":2294,"TH0123":4847},
{"t":277.5,"TH0":828,"TH1":606,"TH2":1244,"TH3":2294,"TH0123":5060},
{"t":282.5,"TH0":846,"TH1":677,"TH2":1244,"TH3":2434,"TH0123":5116},
{"t":287.5,"TH0":753,"TH1":618,"TH2":1168,"TH3":2286,"TH0123":4861},
{"t":292.5,"TH0":840,"TH1":612,"TH2":1258,"TH3":2270,"TH0123":4875},
{"t":297.5,"TH0":765,"TH1":695,"TH2":1258,"TH3":2434,"TH0123":4875},
{"t":302.5,"TH0":761,"TH1":616,"TH2":1249,"TH3":2409,"TH0123":4876},
{"t":307.5,"TH0":743,"TH1":675,"TH2":1263,"TH3":2277,"TH0123":4834},
{"t":312.5,"TH0":755,"TH1":699,"TH2":1138,"TH3":2425,"TH0123":4834},
{"t":317.5,"TH0":830,"TH1":681,"TH2":1145,"TH3":2401,"TH0123":5047},
{"t":322.5,"TH0":767,"TH1":592,"TH2":1145,"TH3":2293,"TH0123":4890},
{"t":327.5,"TH0":761,"TH1":687,"TH2":1138,"TH3":2401,"TH0123":5103},
{"t":332.5,"TH0":848,"TH1":610,"TH2":1152,"TH3":2261,"TH0123":5089},
{"t":337.5,"TH0":767,"TH1":675,"TH2":1152,"TH3":2393,"TH0123":5075},
{"t":342.5,"TH0":830,"TH1":675,"TH2":1263,"TH3":2425,"TH0123":4848},
{"t":347.5,"TH0":854,"TH1":616,"TH2":1145,"TH3":2269,"TH0123":4848},
{"t":352.5,"TH0":838,"TH1":686,"TH2":1121,"TH3":2270,"TH0123":5065},
{"t":357.5,"TH0":745,"TH1":686,"TH2":1253,"TH3":2270,"TH0123":5093},
{"t":362.5,"TH0":844,"TH1":686,"TH2":1239,"TH3":2278,"TH0123":5051},
{"t":367.5,"TH0":763,"TH1":698,"TH2":1135,"TH3":2254,"TH0123":5051},
{"t":372.5,"TH0":832,"TH1":597,"TH2":1253,"TH3":2254,"TH0123":4852},
{"t":377.5,"TH0":832,"TH1":603,"TH2":1232,"TH3":2386,"TH0123":4852},
{"t":382.5,"TH0":769,"TH1":603,"TH2":1149,"TH3":2286,"TH0123":4838},
{"t":387.5,"TH0":844,"TH1":597,"TH2":1232,"TH3":2418,"TH0123":5037},
{"t":392.5,"TH0":844,"TH1":609,"TH2":1121,"TH3":2410,"TH0123":4866},
{"t":397.5,"TH0":844,"TH1":609,"TH2":1225,"TH3":2402,"TH0123":4824}
]},
"data":{"name":"lc"},
"spacing":0,
"bounds":"flush",
"config":{
"view":{"stroke":"#222222","strokeWidth":1.5},
"axis":{"domain":false,"grid":false,"labelFont":"Liberation Sans","titleFont":"Liberation Sans","labelColor":"black","titleColor":"black","tickColor":"#222222","tickWidth":1,"labelFlush":false,"labelOverlap":false,"labelBound":false,"titleFontWeight":"normal","titleFontSize":16,"labelFontSize":14},
"text":{"font":"Liberation Sans","fontSize":15,"color":"black","align":"right","baseline":"top","dx":-10,"dy":3}
},
"vconcat":[
{"width":605,"height":89.4,
"layer":[
{"mark":{"type":"line","color":"#ff0000","strokeWidth":3.6,"opacity":0.4,"clip":true},
"encoding":{"x":{"field":"t","type":"quantitative","scale":{"domain":[-521.5,422],"nice":false,"zero":false},"axis":{"orient":"top","values":[-500,-400,-300,-200,-100,0,100,200,300,400],"labels":false,"title":null,"tickSize":{"condition":{"test":"datum.value % 200 === 0","value":-5},"value":-2.5}}},
"y":{"field":"TH0","type":"quantitative","scale":{"domain":[674,882],"nice":false,"zero":false},"axis":{"orient":"right","values":[675,700,725,750,775,800,825,850,875],"labels":false,"title":null,"tickSize":{"condition":{"test":"datum.value % 50 === 0","value":-5},"value":-2.5}}}}},
{"mark":{"type":"line","color":"#ff0000","strokeWidth":0.9,"clip":true},
"encoding":{"x":{"field":"t","type":"quantitative","axis":{"orient":"bottom","values":[-500,-400,-300,-200,-100,0,100,200,300,400],"labels":false,"title":null,"tickSize":{"condition":{"test":"datum.value % 200 === 0","value":-5},"value":-2.5}}},
"y":{"field":"TH0","type":"quantitative","axis":{"orient":"left","values":[675,700,725,750,775,800,825,850,875],"format":"d","labelExpr":"datum.value % 50 === 0 ? datum.label : ''","labelFont":"DejaVu Sans","labelFontSize":14.5,"labelPadding":7,"title":null,"tickSize":{"condition":{"test":"datum.value % 50 === 0","value":-5},"value":-2.5}}}}},
{"data":{"values":[{"label":"TH0"}]},"mark":{"type":"text"},
"encoding":{"x":{"datum":422,"type":"quantitative","axis":null},"y":{"datum":882,"type":"quantitative","axis":null},"text":{"field":"label"}}}
],
"resolve":{"axis":{"x":"independent","y":"independent"}}},
{"width":605,"height":89.4,
"layer":[
{"mark":{"type":"line","color":"#00ff00","strokeWidth":3.6,"opacity":0.4,"clip":true},
"encoding":{"x":{"field":"t","type":"quantitative","scale":{"domain":[-521.5,422],"nice":false,"zero":false},"axis":{"orient":"top","values":[-500,-400,-300,-200,-100,0,100,200,300,400],"labels":false,"title":null,"tickSize":{"condition":{"test":"datum.value % 200 === 0","value":-5},"value":-2.5}}},
"y":{"field":"TH1","type":"quantitative","scale":{"domain":[548,753],"nice":false,"zero":false},"axis":{"orient":"right","values":[550,575,600,625,650,675,700,725,750],"labels":false,"title":null,"tickSize":{"condition":{"test":"datum.value % 50 === 0","value":-5},"value":-2.5}}}}},
{"mark":{"type":"line","color":"#00ff00","strokeWidth":0.9,"clip":true},
"encoding":{"x":{"field":"t","type":"quantitative","axis":{"orient":"bottom","values":[-500,-400,-300,-200,-100,0,100,200,300,400],"labels":false,"title":null,"tickSize":{"condition":{"test":"datum.value % 200 === 0","value":-5},"value":-2.5}}},
"y":{"field":"TH1","type":"quantitative","axis":{"orient":"left","values":[550,575,600,625,650,675,700,725,750],"format":"d","labelExpr":"datum.value % 50 === 0 ? datum.label : ''","labelFont":"DejaVu Sans","labelFontSize":14.5,"labelPadding":7,"title":null,"tickSize":{"condition":{"test":"datum.value % 50 === 0","value":-5},"value":-2.5}}}}},
{"data":{"values":[{"label":"TH1"}]},"mark":{"type":"text"},
"encoding":{"x":{"datum":422,"type":"quantitative","axis":null},"y":{"datum":753,"type":"quantitative","axis":null},"text":{"field":"label"}}}
],
"resolve":{"axis":{"x":"independent","y":"independent"}}},
{"width":605,"height":89.4,
"layer":[
{"mark":{"type":"line","color":"#0000ff","strokeWidth":3.6,"opacity":0.4,"clip":true},
"encoding":{"x":{"field":"t","type":"quantitative","scale":{"domain":[-521.5,422],"nice":false,"zero":false},"axis":{"orient":"top","values":[-500,-400,-300,-200,-100,0,100,200,300,400],"labels":false,"title":null,"tickSize":{"condition":{"test":"datum.value % 200 === 0","value":-5},"value":-2.5}}},
"y":{"field":"TH2","type":"quantitative","scale":{"domain":[1085,1460],"nice":false,"zero":false},"axis":{"orient":"right","values":[1100,1133.33,1166.67,1200,1233.33,1266.67,1300,1333.33,1366.67,1400,1433.33],"labels":false,"title":null,"tickSize":{"condition":{"test":"datum.value % 100 === 0","value":-5},"value":-2.5}}}}},
{"mark":{"type":"line","color":"#0000ff","strokeWidth":0.9,"clip":true},
"encoding":{"x":{"field":"t","type":"quantitative","axis":{"orient":"bottom","values":[-500,-400,-300,-200,-100,0,100,200,300,400],"labels":false,"title":null,"tickSize":{"condition":{"test":"datum.value % 200 === 0","value":-5},"value":-2.5}}},
"y":{"field":"TH2","type":"quantitative","axis":{"orient":"left","values":[1100,1133.33,1166.67,1200,1233.33,1266.67,1300,1333.33,1366.67,1400,1433.33],"format":"d","labelExpr":"datum.value % 100 === 0 ? datum.label : ''","labelFont":"DejaVu Sans","labelFontSize":14.5,"labelPadding":7,"title":"Counts/sec","titleX":-61,"titleBaseline":"alphabetic","tickSize":{"condition":{"test":"datum.value % 100 === 0","value":-5},"value":-2.5}}}}},
{"data":{"values":[{"label":"TH2"}]},"mark":{"type":"text"},
"encoding":{"x":{"datum":422,"type":"quantitative","axis":null},"y":{"datum":1460,"type":"quantitative","axis":null},"text":{"field":"label"}}}
],
"resolve":{"axis":{"x":"independent","y":"independent"}}},
{"width":605,"height":89.4,
"layer":[
{"mark":{"type":"line","color":"#00ffff","strokeWidth":3.6,"opacity":0.4,"clip":true},
"encoding":{"x":{"field":"t","type":"quantitative","scale":{"domain":[-521.5,422],"nice":false,"zero":false},"axis":{"orient":"top","values":[-500,-400,-300,-200,-100,0,100,200,300,400],"labels":false,"title":null,"tickSize":{"condition":{"test":"datum.value % 200 === 0","value":-5},"value":-2.5}}},
"y":{"field":"TH3","type":"quantitative","scale":{"domain":[2158,2649],"nice":false,"zero":false},"axis":{"orient":"right","values":[2200,2250,2300,2350,2400,2450,2500,2550,2600],"labels":false,"title":null,"tickSize":{"condition":{"test":"datum.value % 100 === 0","value":-5},"value":-2.5}}}}},
{"mark":{"type":"line","color":"#00ffff","strokeWidth":0.9,"clip":true},
"encoding":{"x":{"field":"t","type":"quantitative","axis":{"orient":"bottom","values":[-500,-400,-300,-200,-100,0,100,200,300,400],"labels":false,"title":null,"tickSize":{"condition":{"test":"datum.value % 200 === 0","value":-5},"value":-2.5}}},
"y":{"field":"TH3","type":"quantitative","axis":{"orient":"left","values":[2200,2250,2300,2350,2400,2450,2500,2550,2600],"format":"d","labelExpr":"datum.value % 100 === 0 ? datum.label : ''","labelFont":"DejaVu Sans","labelFontSize":14.5,"labelPadding":7,"title":null,"tickSize":{"condition":{"test":"datum.value % 100 === 0","value":-5},"value":-2.5}}}}},
{"data":{"values":[{"label":"TH3"}]},"mark":{"type":"text"},
"encoding":{"x":{"datum":422,"type":"quantitative","axis":null},"y":{"datum":2649,"type":"quantitative","axis":null},"text":{"field":"label"}}}
],
"resolve":{"axis":{"x":"independent","y":"independent"}}},
{"width":605,"height":89.4,
"layer":[
{"mark":{"type":"line","color":"#ff00ff","strokeWidth":3.6,"opacity":0.4,"clip":true},
"encoding":{"x":{"field":"t","type":"quantitative","scale":{"domain":[-521.5,422],"nice":false,"zero":false},"axis":{"orient":"top","values":[-500,-400,-300,-200,-100,0,100,200,300,400],"labels":false,"title":null,"tickSize":{"condition":{"test":"datum.value % 200 === 0","value":-5},"value":-2.5}}},
"y":{"field":"TH0123","type":"quantitative","scale":{"domain":[4706,5462],"nice":false,"zero":false},"axis":{"orient":"right","values":[4800,4900,5000,5100,5200,5300,5400],"labels":false,"title":null,"tickSize":{"condition":{"test":"datum.value % 200 === 0","value":-5},"value":-2.5}}}}},
{"mark":{"type":"line","color":"#ff00ff","strokeWidth":0.9,"clip":true},
"encoding":{"x":{"field":"t","type":"quantitative","axis":{"orient":"bottom","values":[-500,-400,-300,-200,-100,0,100,200,300,400],"labelExpr":"datum.value % 200 === 0 ? datum.label : ''","labelPadding":13,"title":"Time [sec] 0 = 2008/12/26 14:16:08","titleY":36.7,"titleBaseline":"alphabetic","tickSize":{"condition":{"test":"datum.value % 200 === 0","value":-5},"value":-2.5}}},
"y":{"field":"TH0123","type":"quantitative","axis":{"orient":"left","values":[4800,4900,5000,5100,5200,5300,5400],"format":"d","labelExpr":"datum.value % 200 === 0 ? datum.label : ''","labelFont":"DejaVu Sans","labelFontSize":14.5,"labelPadding":7,"title":null,"tickSize":{"condition":{"test":"datum.value % 200 === 0","value":-5},"value":-2.5}}}}},
{"data":{"values":[{"label":"TH0123"}]},"mark":{"type":"text"},
"encoding":{"x":{"datum":422,"type":"quantitative","axis":null},"y":{"datum":5462,"type":"quantitative","axis":null},"text":{"field":"label"}}}
],
"resolve":{"axis":{"x":"independent","y":"independent"}}}
]
}
